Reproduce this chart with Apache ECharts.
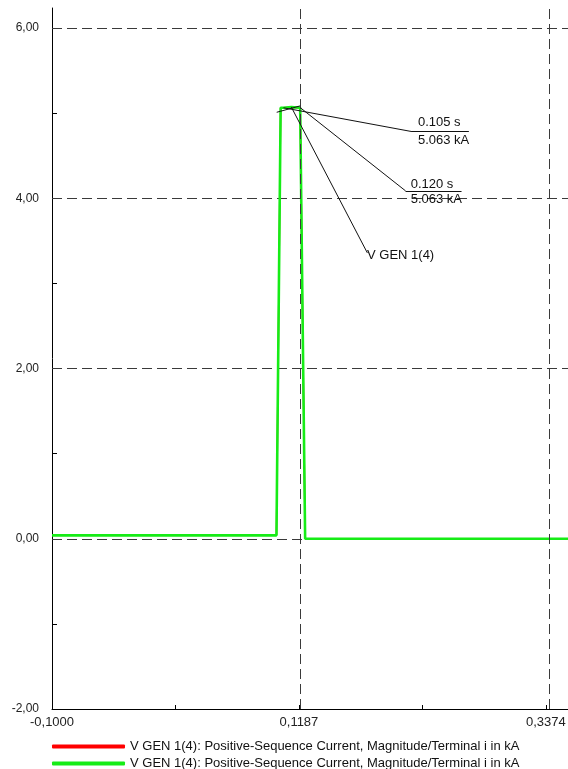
<!DOCTYPE html>
<html>
<head>
<meta charset="utf-8">
<title>V GEN 1(4) positive-sequence current</title>
<script src="https://cdn.jsdelivr.net/npm/echarts@6/dist/echarts.min.js"></script>
<style>
  html, body { margin: 0; padding: 0; background: #fff; }
  #chart { width: 568px; height: 769px; }
</style>
</head>
<body>
<div id="chart"></div>
<script>
// values: time in s, current in kA
var timeS = [-0.1, 0.0988, 0.1025, 0.105, 0.112, 0.1198, 0.1242, 0.357];
var currentKA = [0.04, 0.04, 5.063, 5.063, 5.07, 5.063, 0, 0];

// axis ticks / labels
var xLabelValues = [-0.1, 0.1187, 0.3374];
var xTickValues = [-0.1, 0.00935, 0.1187, 0.22805, 0.3374];
var yLabelValues = [-2, 0, 2, 4, 6];
var yTickValues = [-2, -1, 0, 1, 2, 3, 4, 5, 6];
var xGridValues = [0.1187, 0.3374];
var yGridValues = [0, 2, 4, 6];

// cursor readouts (time s, current kA)
var cursorTimes = [0.105, 0.120];
var cursorValues = [5.063, 5.063];
var seriesTag = 'V GEN 1(4)';

var nameRed = 'V GEN 1(4): Positive-Sequence Current, Magnitude/Terminal i in kA';
var nameGreen = nameRed + ' ';   // same text, kept apart for the legend

var FONT = '"Liberation Sans", Arial, sans-serif';

var curve = timeS.map(function (t, i) { return [t, currentKA[i]]; });

var chart = echarts.init(document.getElementById('chart'));

var dashed = { color: '#3a3a3a', type: [10, 5], width: 1 };

// annotation lines (data coords) from the cursor points to their text boxes
var noteLines = [
  [{ coord: [cursorTimes[0], cursorValues[0]] }, { coord: [0.2188, 4.783] }],
  [{ coord: [0.2188, 4.783] }, { coord: [0.2692, 4.783] }],
  [{ coord: [cursorTimes[1], cursorValues[1]] }, { coord: [0.2132, 4.086] }],
  [{ coord: [0.2132, 4.086] }, { coord: [0.2627, 4.086] }],
  [{ coord: [0.112, 5.07] }, { coord: [0.1793, 3.358] }],
  [{ coord: [0.099, 5.01], lineStyle: { curveness: -0.35 } }, { coord: [0.1198, 5.085] }]
];

var noteTexts = [
  { coord: [0.2241, 4.885], label: { formatter: cursorTimes[0].toFixed(3) + ' s' } },
  { coord: [0.2241, 4.685], label: { formatter: cursorValues[0].toFixed(3) + ' kA' } },
  { coord: [0.2177, 4.168], label: { formatter: cursorTimes[1].toFixed(3) + ' s' } },
  { coord: [0.2177, 3.990], label: { formatter: cursorValues[1].toFixed(3) + ' kA' } },
  { coord: [0.1790, 3.323], label: { formatter: seriesTag } }
];

function legendFor(name, top) {
  return {
    orient: 'vertical',
    left: 52,
    top: top,
    padding: 0,
    itemWidth: 73,
    itemHeight: 4,
    icon: 'roundRect',
    selectedMode: false,
    data: [name],
    textStyle: { fontSize: 13, color: '#111', fontFamily: FONT }
  };
}

var option = {
  animation: false,
  backgroundColor: '#fff',
  grid: { left: 52, right: 0, top: 8, bottom: 60, containLabel: false, outerBoundsMode: 'none' },
  legend: [legendFor(nameRed, 740), legendFor(nameGreen, 757)],
  xAxis: {
    type: 'value',
    min: -0.1,
    max: 0.357,
    axisLine: { show: true, onZero: false, lineStyle: { color: '#000', width: 1 } },
    axisTick: { show: true, inside: true, length: 4, customValues: xTickValues, lineStyle: { color: '#000' } },
    axisLabel: {
      customValues: xLabelValues,
      margin: 7,
      color: '#222',
      fontSize: 13,
      fontFamily: FONT,
      formatter: function (v) { return v.toFixed(4).replace('.', ','); }
    },
    splitLine: { show: false }
  },
  yAxis: {
    type: 'value',
    min: -2,
    max: 6.235,
    axisLine: { show: true, onZero: false, lineStyle: { color: '#000', width: 1 } },
    axisTick: { show: true, inside: true, length: 5, customValues: yTickValues, lineStyle: { color: '#000' } },
    axisLabel: {
      customValues: yLabelValues,
      margin: 13,
      color: '#222',
      fontSize: 12,
      fontFamily: FONT,
      formatter: function (v) { return v.toFixed(2).replace('.', ','); }
    },
    splitLine: { show: false }
  },
  series: [
    // horizontal grid, under the curves
    {
      type: 'line', data: [], silent: true, z: 1,
      markLine: {
        silent: true, symbol: 'none', z: 1, animation: false,
        label: { show: false }, lineStyle: dashed,
        data: yGridValues.map(function (v) { return { yAxis: v }; })
      }
    },
    {
      name: nameRed, type: 'line', data: curve, showSymbol: false, z: 2,
      itemStyle: { color: '#ff0000' },
      lineStyle: { color: '#ff0000', width: 1.5 }
    },
    {
      name: nameGreen, type: 'line', data: curve, showSymbol: false, z: 3,
      itemStyle: { color: '#16ec16' },
      lineStyle: { color: '#16ec16', width: 2.6 }
    },
    // vertical grid, drawn over the curve
    {
      type: 'line', data: [], silent: true, z: 4,
      markLine: {
        silent: true, symbol: 'none', z: 4, animation: false,
        label: { show: false }, lineStyle: dashed,
        data: xGridValues.map(function (v) { return { xAxis: v }; })
      }
    },
    // cursor annotations
    {
      type: 'line', data: [], silent: true, z: 5,
      markLine: {
        silent: true, symbol: 'none', z: 5, animation: false,
        label: { show: false },
        lineStyle: { color: '#111', type: 'solid', width: 1 },
        data: noteLines
      },
      markPoint: {
        silent: true, symbol: 'circle', symbolSize: 0, z: 5, animation: false,
        itemStyle: { color: 'transparent' },
        label: { show: true, position: 'right', distance: 0, color: '#111', fontSize: 13, fontFamily: FONT },
        data: noteTexts
      }
    }
  ]
};

chart.setOption(option);
</script>
</body>
</html>
